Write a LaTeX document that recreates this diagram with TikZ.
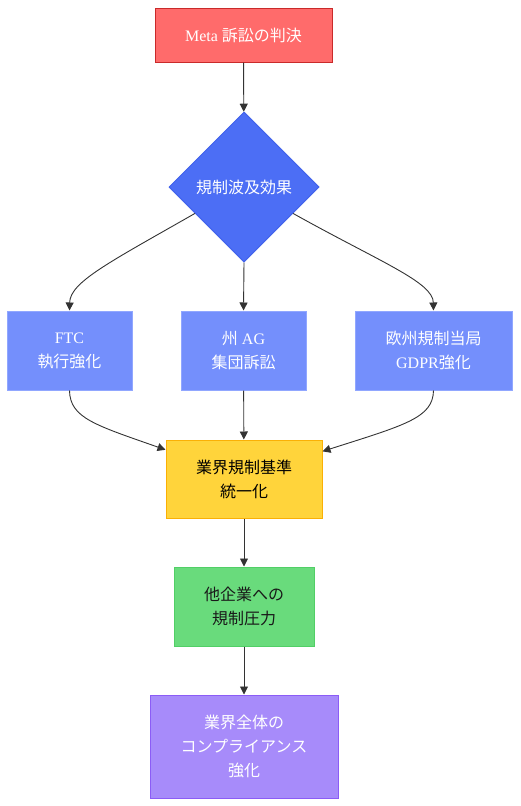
\documentclass[tikz,border=0pt]{standalone}
\usepackage{fontspec}
\setmainfont{Liberation Serif}
\newfontfamily\cjk{Noto Sans CJK JP}
\usetikzlibrary{shapes.geometric,arrows.meta,calc}
\definecolor{redfill}{HTML}{FF6B6B}
\definecolor{redline}{HTML}{C92A2A}
\definecolor{diafill}{HTML}{4C6EF5}
\definecolor{dialine}{HTML}{4263EB}
\definecolor{bluefill}{HTML}{748FFC}
\definecolor{blueline}{HTML}{91A7FF}
\definecolor{yelfill}{HTML}{FFD43B}
\definecolor{yelline}{HTML}{FAB005}
\definecolor{grnfill}{HTML}{69DB7C}
\definecolor{grnline}{HTML}{51CF66}
\definecolor{purfill}{HTML}{A78BFA}
\definecolor{purline}{HTML}{8B5CF6}
\definecolor{edgec}{HTML}{333333}
\begin{document}
\begin{tikzpicture}[x=1pt,y=-1pt,
  base/.style={draw, line width=1pt, inner sep=0pt, align=center, font=\fontsize{16}{24}\selectfont},
  boxred/.style={base, fill=redfill, draw=redline, text=white},
  boxdia/.style={base, diamond, aspect=1, minimum size=150pt, fill=diafill, draw=dialine, text=white},
  boxblue/.style={base, fill=bluefill, draw=blueline, text=white},
  boxyel/.style={base, fill=yelfill, draw=yelline, text=black},
  boxgrn/.style={base, fill=grnfill, draw=grnline, text=black!90},
  boxpur/.style={base, fill=purfill, draw=purline, text=white},
  conn/.style={draw=edgec, line width=0.9pt, -{Triangle[length=8pt,width=8pt]}}
]
\useasboundingbox (0,0) rectangle (520,806);

\node[boxred, minimum width=177pt, minimum height=54pt] (top) at (243.5,35) {Meta {\cjk 訴訟の判決}};
\node[boxdia] (dia) at (244,187) {{\cjk 規制波及効果}};
\node[boxblue, minimum width=125pt, minimum height=79pt] (ftc) at (69.5,350.5) {FTC\\{\cjk 執行強化}};
\node[boxblue, minimum width=125pt, minimum height=79pt] (ag) at (243.5,350.5) {{\cjk 州} AG\\{\cjk 集団訴訟}};
\node[boxblue, minimum width=157pt, minimum height=79pt] (eu) at (433.5,350.5) {{\cjk 欧州規制当局}\\GDPR{\cjk 強化}};
\node[boxyel, minimum width=156pt, minimum height=78pt] (std) at (244,479) {{\cjk 業界規制基準}\\{\cjk 統一化}};
\node[boxgrn, minimum width=140pt, minimum height=79pt] (prs) at (244,606.5) {{\cjk 他企業への}\\{\cjk 規制圧力}};
\node[boxpur, minimum width=188pt, minimum height=103pt] (cmp) at (244,746.5) {{\cjk 業界全体の}\\{\cjk コンプライアンス}\\{\cjk 強化}};

\coordinate (dl) at ($(dia.west)!0.35!(dia.south)$);
\coordinate (dr) at ($(dia.east)!0.35!(dia.south)$);

\draw[conn] (top) -- (dia);
\draw[conn] (dl) .. controls (110,262) and (70,282) .. (ftc.north);
\draw[conn] (dia.south) -- (ag.north);
\draw[conn] (dr) .. controls (380,262) and (433,282) .. (eu.north);
\draw[conn] (ftc.south) .. controls (70,418) and (95,425) .. ($(std.north west)!0.13!(std.south west)$);
\draw[conn] (ag) -- (std);
\draw[conn] (eu.south) .. controls (433,418) and (405,425) .. ($(std.north east)!0.15!(std.south east)$);
\draw[conn] (std) -- (prs);
\draw[conn] (prs) -- (cmp);
\end{tikzpicture}
\end{document}
